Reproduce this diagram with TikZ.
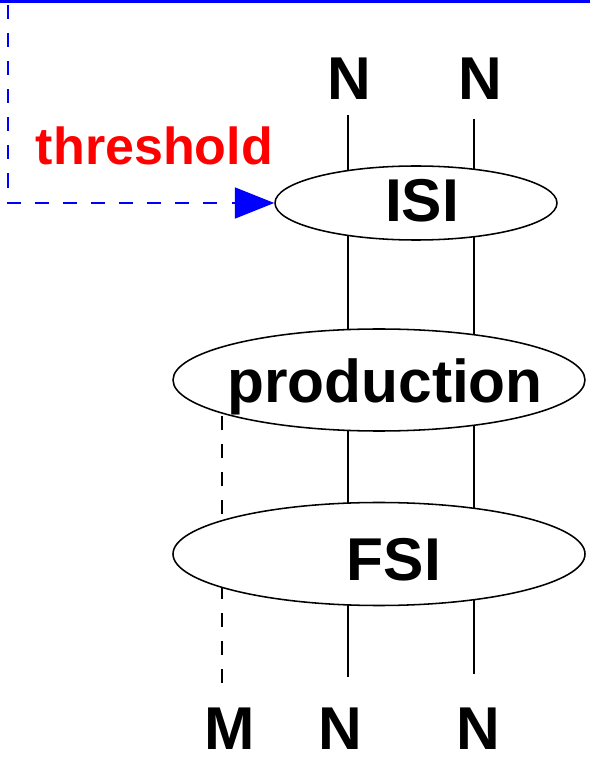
\documentclass[tikz,border=0pt]{standalone}
\usepackage{fontspec}
\setmainfont{Liberation Sans}
\usetikzlibrary{shapes.geometric,arrows.meta}
\begin{document}
\begin{tikzpicture}[>={Triangle[length=28pt,width=22pt]},
  blob/.style={draw,ellipse,fill=white,line width=1.1pt,inner sep=0pt},
  lbl/.style={font=\fontsize{43}{50}\selectfont\bfseries,inner sep=0pt},
  leg/.style={line width=1pt}]
\useasboundingbox (0,0) rectangle (14.75,18.95);
\draw[blue,line width=2pt](0,18.92)--(14.75,18.92);

\coordinate (a1) at (8.7,16.075); \coordinate (a2) at (8.7,2.025);
\coordinate (b1) at (11.85,15.975); \coordinate (b2) at (11.85,2.1);
\coordinate (m1) at (5.55,9.45); \coordinate (m2) at (5.55,1.875);
\draw[leg](a1)--(a2);
\draw[leg](b1)--(b2);
\draw[leg,dash pattern=on 10pt off 10pt](m2)--(m1);

\node[blob,minimum width=7.05cm,minimum height=1.85cm](isi) at (10.4,13.875){};
\node[blob,minimum width=10.3cm,minimum height=2.55cm](prod) at (9.475,9.45){};
\node[blob,minimum width=10.3cm,minimum height=2.575cm](fsi) at (9.475,5.1){};

\node[lbl](isit) at (10.55,13.94){ISI};
\node[lbl](prodt) at (9.625,9.29){production};
\node[lbl](fsit) at (9.85,4.95){FSI};
\node[lbl](n1) at (8.725,16.99){N};
\node[lbl](n2) at (12.0,16.99){N};
\node[lbl](m) at (5.75,0.72){M};
\node[lbl](n3) at (8.5,0.72){N};
\node[lbl](n4) at (11.96,0.72){N};
\node[lbl,red,font=\fontsize{37}{44}\selectfont\bfseries](thr) at (3.86,15.3){threshold};

\coordinate (fb) at (0.2,18.83);
\draw[->,blue,line width=1.4pt,dash pattern=on 10pt off 10pt](fb)|-(isi.west);
\end{tikzpicture}
\end{document}
